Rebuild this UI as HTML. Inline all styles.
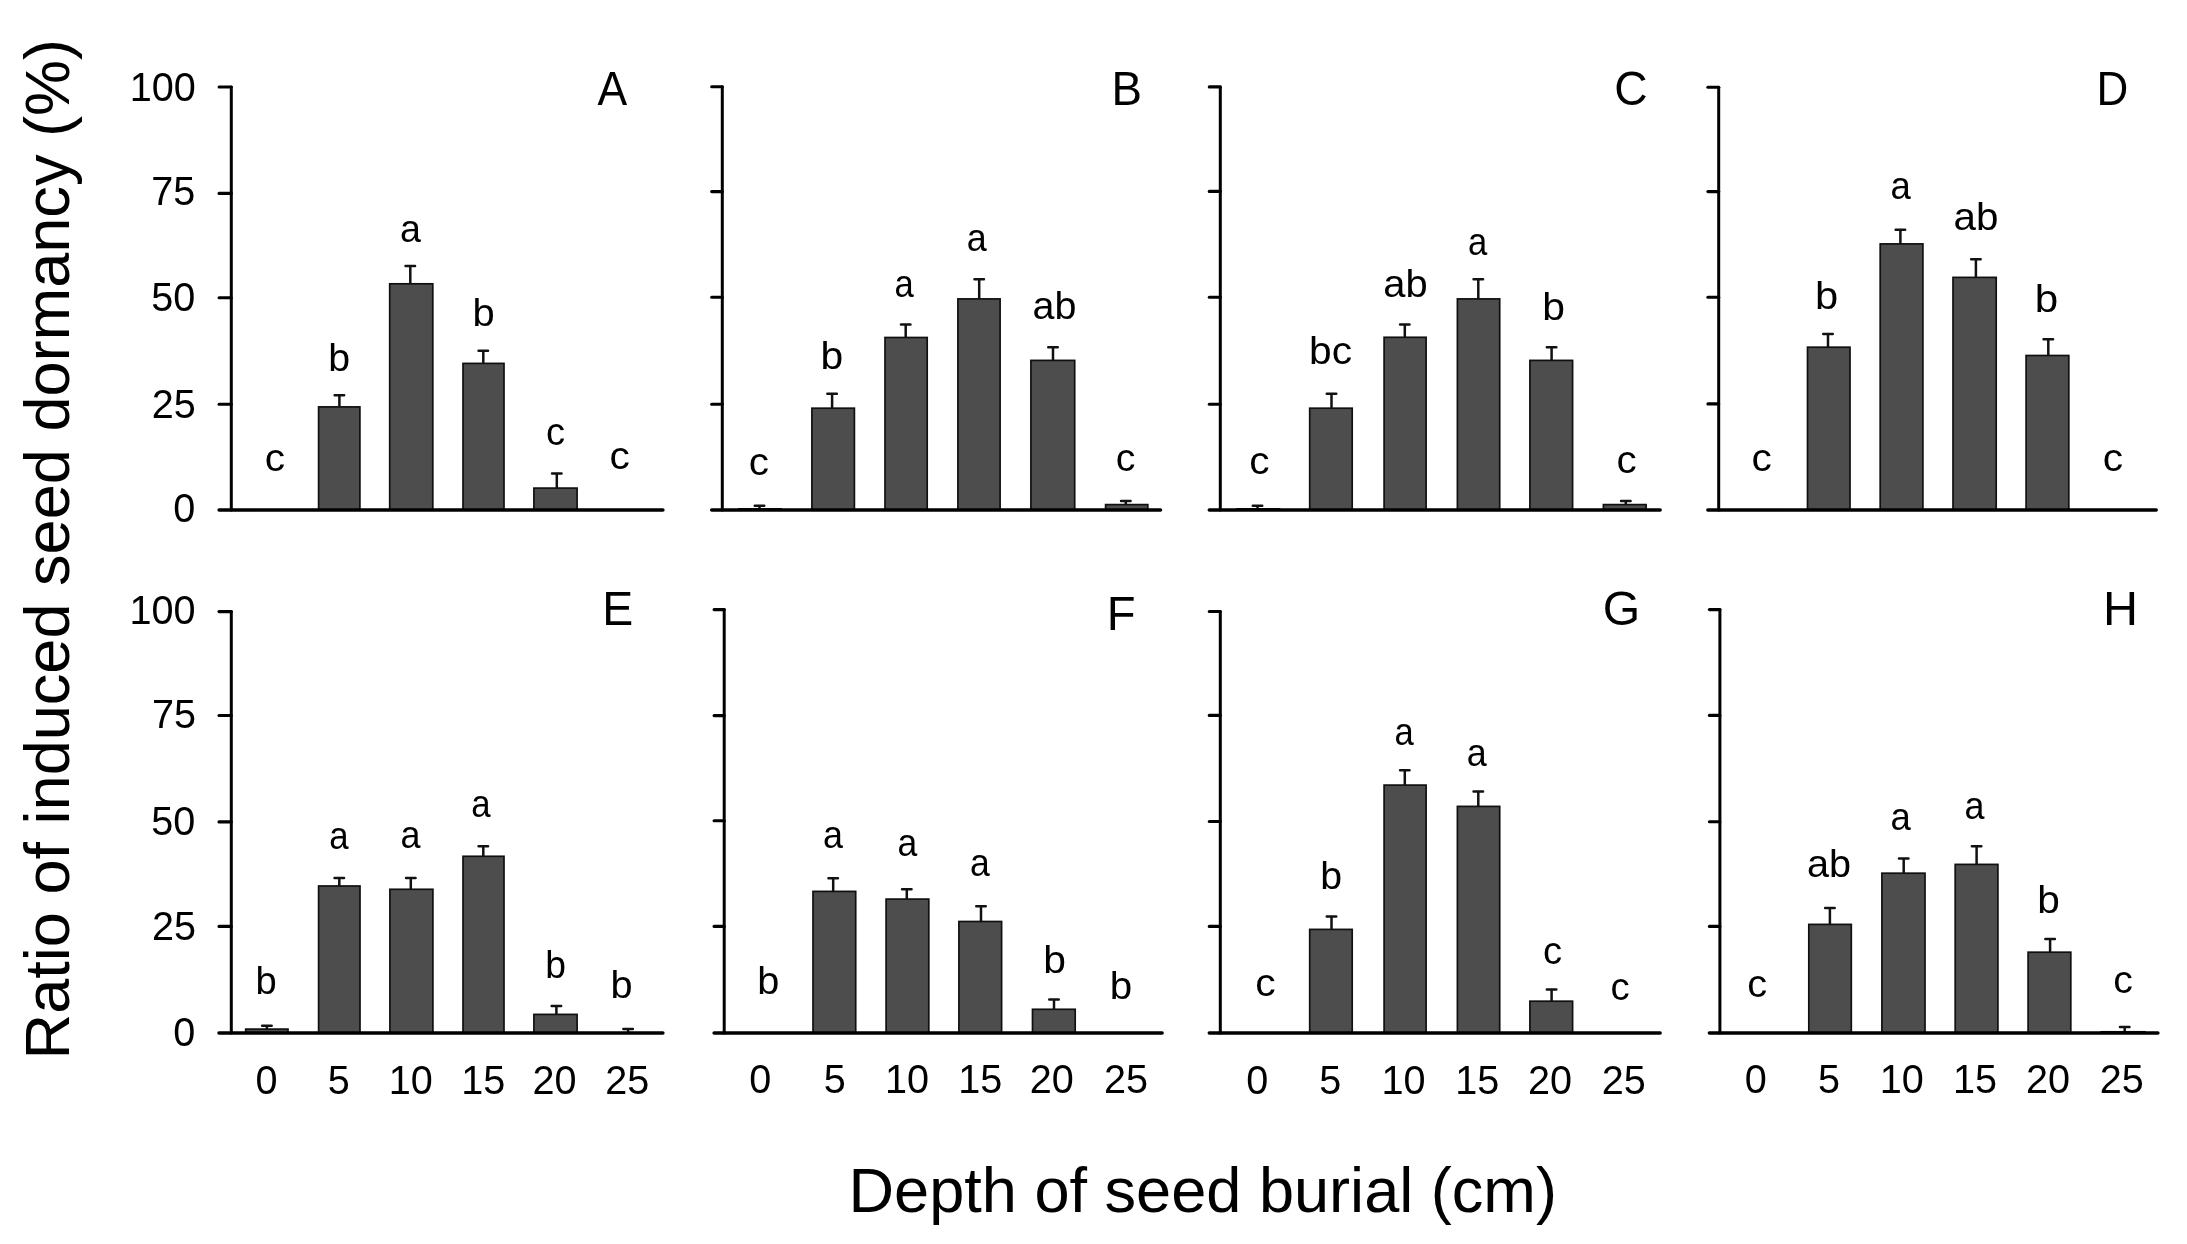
<!DOCTYPE html>
<html lang="en"><head><meta charset="utf-8"><title>Ratio of induced seed dormancy by depth of seed burial</title>
<style>
html,body{margin:0;padding:0;background:#fff;}
body{width:2187px;height:1244px;overflow:hidden;}
svg{display:block;filter:blur(0.35px);}
text{font-family:"Liberation Sans",sans-serif;fill:#000;}
.ax{stroke:#000;stroke-width:3.5;fill:none;stroke-linecap:round;}
.tk{stroke-width:3.1;}
.va{stroke-width:3.0;}
.eb{stroke:#111;stroke-width:2.5;fill:none;stroke-linecap:round;}
.bar{fill:#4d4d4d;stroke:#101010;stroke-width:1.7;}
</style></head><body>
<svg width="2187" height="1244" viewBox="0 0 2187 1244">
<rect width="2187" height="1244" fill="#fff"/>
<g id="pA">
<path d="M339.40 406.30V395.30M334.65 395.30H344.15" class="eb"/>
<rect x="318.60" y="406.90" width="41.30" height="103.20" class="bar"/>
<path d="M410.30 283.20V266.10M405.55 266.10H415.05" class="eb"/>
<rect x="389.70" y="283.80" width="43.10" height="226.30" class="bar"/>
<path d="M483.30 362.80V350.80M478.55 350.80H488.05" class="eb"/>
<rect x="463.00" y="363.40" width="41.00" height="146.70" class="bar"/>
<path d="M556.80 487.50V473.50M552.05 473.50H561.55" class="eb"/>
<rect x="533.90" y="488.10" width="43.20" height="22.00" class="bar"/>
<path d="M219.10 87.00H231.30" class="ax tk"/>
<path d="M219.10 193.40H231.30" class="ax tk"/>
<path d="M219.10 297.80H231.30" class="ax tk"/>
<path d="M219.10 404.30H231.30" class="ax tk"/>
<path d="M231.30 87.00V510.10" class="ax va"/>
<path d="M219.10 510.10H662.90" class="ax"/>
<text transform="translate(264.83 471.30) scale(1.0520 1.0)" font-size="38.6">c</text>
<text transform="translate(328.34 370.80) scale(1.0177 1.0)" font-size="38.6">b</text>
<text transform="translate(399.92 242.20) scale(0.9753 1.0)" font-size="38.6">a</text>
<text transform="translate(472.50 325.80) scale(1.0348 1.0)" font-size="38.6">b</text>
<text transform="translate(545.91 444.50) scale(0.9891 1.0)" font-size="38.6">c</text>
<text transform="translate(609.43 469.00) scale(1.0520 1.0)" font-size="38.6">c</text>
<text transform="translate(597.50 105.00) scale(0.9889 1.07)" font-size="45.0">A</text>
</g>
<g id="pB">
<path d="M759.50 508.30V505.70M754.75 505.70H764.25" class="eb"/>
<rect x="739.00" y="508.90" width="42.10" height="1.20" class="bar"/>
<path d="M832.10 407.60V393.80M827.35 393.80H836.85" class="eb"/>
<rect x="811.90" y="408.20" width="42.50" height="101.90" class="bar"/>
<path d="M905.70 336.90V324.60M900.95 324.60H910.45" class="eb"/>
<rect x="885.00" y="337.50" width="42.20" height="172.60" class="bar"/>
<path d="M979.20 298.30V279.20M974.45 279.20H983.95" class="eb"/>
<rect x="957.90" y="298.90" width="42.20" height="211.20" class="bar"/>
<path d="M1053.00 359.80V347.20M1048.25 347.20H1057.75" class="eb"/>
<rect x="1030.90" y="360.40" width="43.80" height="149.70" class="bar"/>
<path d="M1125.80 504.00V500.90M1121.05 500.90H1130.55" class="eb"/>
<rect x="1105.60" y="504.60" width="42.20" height="5.50" class="bar"/>
<path d="M711.70 86.80H722.30" class="ax tk"/>
<path d="M711.70 191.60H722.30" class="ax tk"/>
<path d="M711.70 297.20H722.30" class="ax tk"/>
<path d="M711.70 404.30H722.30" class="ax tk"/>
<path d="M722.30 86.80V510.10" class="ax va"/>
<path d="M711.70 510.10H1160.50" class="ax"/>
<text transform="translate(748.84 474.60) scale(1.0463 1.0)" font-size="38.6">c</text>
<text transform="translate(820.45 369.20) scale(1.0577 1.0)" font-size="38.6">b</text>
<text transform="translate(894.42 296.90) scale(0.8973 1.0)" font-size="38.6">a</text>
<text transform="translate(966.78 250.60) scale(0.9314 1.0)" font-size="38.6">a</text>
<text transform="translate(1032.47 318.70) scale(1.0233 1.0)" font-size="38.6">ab</text>
<text transform="translate(1115.87 470.90) scale(1.0177 1.0)" font-size="38.6">c</text>
<text transform="translate(1111.43 104.80) scale(1.0159 1.07)" font-size="45.0">B</text>
</g>
<g id="pC">
<path d="M1257.50 508.30V505.70M1252.75 505.70H1262.25" class="eb"/>
<rect x="1236.80" y="508.90" width="42.70" height="1.20" class="bar"/>
<path d="M1331.50 407.60V393.80M1326.75 393.80H1336.25" class="eb"/>
<rect x="1309.70" y="408.20" width="42.50" height="101.90" class="bar"/>
<path d="M1404.80 336.70V324.60M1400.05 324.60H1409.55" class="eb"/>
<rect x="1384.10" y="337.30" width="42.00" height="172.80" class="bar"/>
<path d="M1478.30 298.30V279.20M1473.55 279.20H1483.05" class="eb"/>
<rect x="1457.40" y="298.90" width="42.30" height="211.20" class="bar"/>
<path d="M1551.60 359.80V347.20M1546.85 347.20H1556.35" class="eb"/>
<rect x="1529.90" y="360.40" width="42.70" height="149.70" class="bar"/>
<path d="M1625.80 504.00V500.90M1621.05 500.90H1630.55" class="eb"/>
<rect x="1603.40" y="504.60" width="42.70" height="5.50" class="bar"/>
<path d="M1209.30 86.90H1220.30" class="ax tk"/>
<path d="M1209.30 191.40H1220.30" class="ax tk"/>
<path d="M1209.30 297.30H1220.30" class="ax tk"/>
<path d="M1209.30 404.30H1220.30" class="ax tk"/>
<path d="M1220.30 86.90V510.10" class="ax va"/>
<path d="M1209.30 510.10H1660.10" class="ax"/>
<text transform="translate(1249.33 474.00) scale(1.0520 1.0)" font-size="38.6">c</text>
<text transform="translate(1309.06 363.70) scale(1.0543 1.0)" font-size="38.6">bc</text>
<text transform="translate(1383.25 296.80) scale(1.0333 1.0)" font-size="38.6">ab</text>
<text transform="translate(1467.92 254.50) scale(0.8973 1.0)" font-size="38.6">a</text>
<text transform="translate(1542.15 320.30) scale(1.0577 1.0)" font-size="38.6">b</text>
<text transform="translate(1616.54 472.80) scale(1.0463 1.0)" font-size="38.6">c</text>
<text transform="translate(1614.33 104.80) scale(1.0268 1.07)" font-size="45.0">C</text>
</g>
<g id="pD">
<path d="M1828.00 346.60V334.10M1823.25 334.10H1832.75" class="eb"/>
<rect x="1807.50" y="347.20" width="42.50" height="162.90" class="bar"/>
<path d="M1900.40 243.30V229.70M1895.65 229.70H1905.15" class="eb"/>
<rect x="1880.20" y="243.90" width="42.70" height="266.20" class="bar"/>
<path d="M1975.90 276.80V259.20M1971.15 259.20H1980.65" class="eb"/>
<rect x="1953.00" y="277.40" width="43.20" height="232.70" class="bar"/>
<path d="M2048.30 354.90V339.30M2043.55 339.30H2053.05" class="eb"/>
<rect x="2026.10" y="355.50" width="42.70" height="154.60" class="bar"/>
<path d="M1707.90 87.20H1718.70" class="ax tk"/>
<path d="M1707.90 191.60H1718.70" class="ax tk"/>
<path d="M1707.90 297.30H1718.70" class="ax tk"/>
<path d="M1707.90 403.90H1718.70" class="ax tk"/>
<path d="M1718.70 87.20V510.10" class="ax va"/>
<path d="M1707.90 510.10H2156.20" class="ax"/>
<text transform="translate(1751.53 471.30) scale(1.0520 1.0)" font-size="38.6">c</text>
<text transform="translate(1814.89 308.90) scale(1.0806 1.0)" font-size="38.6">b</text>
<text transform="translate(1890.56 199.40) scale(0.9461 1.0)" font-size="38.6">a</text>
<text transform="translate(1953.44 229.70) scale(1.0457 1.0)" font-size="38.6">ab</text>
<text transform="translate(2034.87 312.20) scale(1.0920 1.0)" font-size="38.6">b</text>
<text transform="translate(2102.73 471.30) scale(1.0520 1.0)" font-size="38.6">c</text>
<text transform="translate(2096.56 104.80) scale(0.9773 1.07)" font-size="45.0">D</text>
</g>
<g id="pE">
<path d="M266.90 1028.50V1025.80M262.15 1025.80H271.65" class="eb"/>
<rect x="245.70" y="1029.10" width="42.30" height="3.80" class="bar"/>
<path d="M339.30 885.40V878.10M334.55 878.10H344.05" class="eb"/>
<rect x="318.60" y="886.00" width="41.40" height="146.90" class="bar"/>
<path d="M410.80 888.70V878.10M406.05 878.10H415.55" class="eb"/>
<rect x="389.90" y="889.30" width="43.00" height="143.60" class="bar"/>
<path d="M483.30 855.70V846.30M478.55 846.30H488.05" class="eb"/>
<rect x="463.00" y="856.30" width="41.00" height="176.60" class="bar"/>
<path d="M556.40 1013.80V1006.10M551.65 1006.10H561.15" class="eb"/>
<rect x="533.90" y="1014.40" width="43.20" height="18.50" class="bar"/>
<path d="M628.10 1032.50V1029.10M623.35 1029.10H632.85" class="eb"/>
<rect x="606.60" y="1033.10" width="42.80" height="-0.20" class="bar"/>
<path d="M219.00 611.60H231.30" class="ax tk"/>
<path d="M219.00 715.50H231.30" class="ax tk"/>
<path d="M219.00 821.90H231.30" class="ax tk"/>
<path d="M219.00 926.40H231.30" class="ax tk"/>
<path d="M231.30 611.60V1032.90" class="ax va"/>
<path d="M219.00 1032.90H662.90" class="ax"/>
<text transform="translate(255.61 994.10) scale(0.9891 1.0)" font-size="38.6">b</text>
<text transform="translate(329.31 848.70) scale(0.9022 1.0)" font-size="38.6">a</text>
<text transform="translate(400.38 848.00) scale(0.9314 1.0)" font-size="38.6">a</text>
<text transform="translate(471.31 816.70) scale(0.9022 1.0)" font-size="38.6">a</text>
<text transform="translate(545.17 977.60) scale(0.9662 1.0)" font-size="38.6">b</text>
<text transform="translate(610.42 997.60) scale(1.0291 1.0)" font-size="38.6">b</text>
<text transform="translate(602.27 624.70) scale(1.0321 1.07)" font-size="45.0">E</text>
</g>
<g id="pF">
<path d="M833.20 890.80V878.30M828.45 878.30H837.95" class="eb"/>
<rect x="813.00" y="891.40" width="42.70" height="141.50" class="bar"/>
<path d="M906.80 898.50V889.30M902.05 889.30H911.55" class="eb"/>
<rect x="886.10" y="899.10" width="42.70" height="133.80" class="bar"/>
<path d="M981.00 920.90V906.20M976.25 906.20H985.75" class="eb"/>
<rect x="958.90" y="921.50" width="42.70" height="111.40" class="bar"/>
<path d="M1054.00 1008.70V999.50M1049.25 999.50H1058.75" class="eb"/>
<rect x="1032.50" y="1009.30" width="42.70" height="23.60" class="bar"/>
<path d="M714.10 609.60H724.20" class="ax tk"/>
<path d="M714.10 715.60H724.20" class="ax tk"/>
<path d="M714.10 820.80H724.20" class="ax tk"/>
<path d="M714.10 926.40H724.20" class="ax tk"/>
<path d="M724.20 609.60V1032.90" class="ax va"/>
<path d="M714.10 1032.90H1162.10" class="ax"/>
<text transform="translate(757.32 994.10) scale(1.0291 1.0)" font-size="38.6">b</text>
<text transform="translate(822.98 848.10) scale(0.9314 1.0)" font-size="38.6">a</text>
<text transform="translate(897.59 856.40) scale(0.9217 1.0)" font-size="38.6">a</text>
<text transform="translate(970.09 876.20) scale(0.9217 1.0)" font-size="38.6">a</text>
<text transform="translate(1043.25 972.80) scale(1.0577 1.0)" font-size="38.6">b</text>
<text transform="translate(1109.78 999.10) scale(1.0463 1.0)" font-size="38.6">b</text>
<text transform="translate(1106.71 629.70) scale(1.0489 1.07)" font-size="45.0">F</text>
</g>
<g id="pG">
<path d="M1331.50 928.80V916.50M1326.75 916.50H1336.25" class="eb"/>
<rect x="1309.70" y="929.40" width="42.50" height="103.50" class="bar"/>
<path d="M1404.80 784.50V770.30M1400.05 770.30H1409.55" class="eb"/>
<rect x="1384.10" y="785.10" width="42.00" height="247.80" class="bar"/>
<path d="M1478.30 805.80V791.40M1473.55 791.40H1483.05" class="eb"/>
<rect x="1457.40" y="806.40" width="42.30" height="226.50" class="bar"/>
<path d="M1551.60 1000.60V989.60M1546.85 989.60H1556.35" class="eb"/>
<rect x="1529.90" y="1001.20" width="42.70" height="31.70" class="bar"/>
<path d="M1209.30 611.50H1220.30" class="ax tk"/>
<path d="M1209.30 715.40H1220.30" class="ax tk"/>
<path d="M1209.30 821.50H1220.30" class="ax tk"/>
<path d="M1209.30 926.40H1220.30" class="ax tk"/>
<path d="M1220.30 611.50V1032.90" class="ax va"/>
<path d="M1209.30 1032.90H1660.10" class="ax"/>
<text transform="translate(1255.22 995.80) scale(1.0577 1.0)" font-size="38.6">c</text>
<text transform="translate(1320.14 889.30) scale(1.0177 1.0)" font-size="38.6">b</text>
<text transform="translate(1394.42 744.70) scale(0.8973 1.0)" font-size="38.6">a</text>
<text transform="translate(1466.78 765.70) scale(0.9314 1.0)" font-size="38.6">a</text>
<text transform="translate(1543.11 964.00) scale(0.9891 1.0)" font-size="38.6">c</text>
<text transform="translate(1610.40 1000.20) scale(0.9948 1.0)" font-size="38.6">c</text>
<text transform="translate(1602.84 624.80) scale(1.0701 1.07)" font-size="45.0">G</text>
</g>
<g id="pH">
<path d="M1829.90 923.80V908.00M1825.15 908.00H1834.65" class="eb"/>
<rect x="1808.80" y="924.40" width="42.50" height="108.50" class="bar"/>
<path d="M1903.70 872.60V858.40M1898.95 858.40H1908.45" class="eb"/>
<rect x="1881.90" y="873.20" width="43.10" height="159.70" class="bar"/>
<path d="M1976.60 863.80V846.30M1971.85 846.30H1981.35" class="eb"/>
<rect x="1955.20" y="864.40" width="42.70" height="168.50" class="bar"/>
<path d="M2050.10 951.60V939.10M2045.35 939.10H2054.85" class="eb"/>
<rect x="2028.10" y="952.20" width="42.70" height="80.70" class="bar"/>
<path d="M2124.70 1031.20V1026.90M2119.95 1026.90H2129.45" class="eb"/>
<rect x="2101.20" y="1031.80" width="43.80" height="1.10" class="bar"/>
<path d="M1709.40 609.60H1719.90" class="ax tk"/>
<path d="M1709.40 715.40H1719.90" class="ax tk"/>
<path d="M1709.40 821.80H1719.90" class="ax tk"/>
<path d="M1709.40 926.40H1719.90" class="ax tk"/>
<path d="M1719.90 609.60V1032.90" class="ax va"/>
<path d="M1709.40 1032.90H2157.90" class="ax"/>
<text transform="translate(1747.16 996.50) scale(1.0291 1.0)" font-size="38.6">c</text>
<text transform="translate(1807.06 877.30) scale(1.0283 1.0)" font-size="38.6">ab</text>
<text transform="translate(1890.56 829.60) scale(0.9461 1.0)" font-size="38.6">a</text>
<text transform="translate(1964.58 818.70) scale(0.9314 1.0)" font-size="38.6">a</text>
<text transform="translate(2037.36 912.80) scale(1.0520 1.0)" font-size="38.6">b</text>
<text transform="translate(2113.27 993.20) scale(1.0177 1.0)" font-size="38.6">c</text>
<text transform="translate(2103.01 624.70) scale(1.0785 1.07)" font-size="45.0">H</text>
</g>
<text transform="translate(129.82 100.60) scale(1 1.03)" font-size="39.6">100</text>
<text transform="translate(151.16 205.00) scale(1 1.03)" font-size="39.6">75</text>
<text transform="translate(151.14 311.20) scale(1 1.03)" font-size="39.6">50</text>
<text transform="translate(151.76 417.90) scale(1 1.03)" font-size="39.6">25</text>
<text transform="translate(173.16 522.00) scale(1 1.03)" font-size="39.6">0</text>
<text transform="translate(129.42 624.10) scale(1 1.03)" font-size="39.6">100</text>
<text transform="translate(151.96 728.40) scale(1 1.03)" font-size="39.6">75</text>
<text transform="translate(151.34 834.90) scale(1 1.03)" font-size="39.6">50</text>
<text transform="translate(151.96 939.60) scale(1 1.03)" font-size="39.6">25</text>
<text transform="translate(173.36 1045.50) scale(1 1.03)" font-size="39.6">0</text>
<text transform="translate(255.61 1094.00) scale(1.0000 1.03)" font-size="39.6">0</text>
<text transform="translate(327.82 1094.00) scale(1.0000 1.03)" font-size="39.6">5</text>
<text transform="translate(388.83 1094.00) scale(1.0000 1.03)" font-size="39.6">10</text>
<text transform="translate(461.34 1094.00) scale(1.0000 1.03)" font-size="39.6">15</text>
<text transform="translate(532.49 1094.00) scale(1.0000 1.03)" font-size="39.6">20</text>
<text transform="translate(605.25 1094.00) scale(1.0000 1.03)" font-size="39.6">25</text>
<text transform="translate(749.16 1092.60) scale(1.0000 1.03)" font-size="39.6">0</text>
<text transform="translate(823.67 1092.60) scale(1.0000 1.03)" font-size="39.6">5</text>
<text transform="translate(884.93 1092.60) scale(1.0000 1.03)" font-size="39.6">10</text>
<text transform="translate(958.24 1092.60) scale(1.0000 1.03)" font-size="39.6">15</text>
<text transform="translate(1029.84 1092.60) scale(1.0000 1.03)" font-size="39.6">20</text>
<text transform="translate(1103.95 1092.60) scale(1.0000 1.03)" font-size="39.6">25</text>
<text transform="translate(1246.26 1094.10) scale(1.0000 1.03)" font-size="39.6">0</text>
<text transform="translate(1319.37 1094.10) scale(1.0000 1.03)" font-size="39.6">5</text>
<text transform="translate(1381.53 1094.10) scale(1.0000 1.03)" font-size="39.6">10</text>
<text transform="translate(1455.24 1094.10) scale(1.0000 1.03)" font-size="39.6">15</text>
<text transform="translate(1528.04 1094.10) scale(1.0000 1.03)" font-size="39.6">20</text>
<text transform="translate(1601.85 1094.10) scale(1.0000 1.03)" font-size="39.6">25</text>
<text transform="translate(1744.76 1092.90) scale(1.0000 1.03)" font-size="39.6">0</text>
<text transform="translate(1818.07 1092.90) scale(1.0000 1.03)" font-size="39.6">5</text>
<text transform="translate(1879.63 1092.90) scale(1.0000 1.03)" font-size="39.6">10</text>
<text transform="translate(1952.94 1092.90) scale(1.0000 1.03)" font-size="39.6">15</text>
<text transform="translate(2025.94 1092.90) scale(1.0000 1.03)" font-size="39.6">20</text>
<text transform="translate(2099.75 1092.90) scale(1.0000 1.03)" font-size="39.6">25</text>
<text transform="translate(848.47 1212.20) scale(1.0004 1.01)" font-size="63.1">Depth of seed burial (cm)</text>
<text transform="translate(68.5 1059.43) rotate(-90) scale(1.0001 1.01)" font-size="63.1">Ratio of induced seed dormancy (%)</text>
</svg>
</body></html>
